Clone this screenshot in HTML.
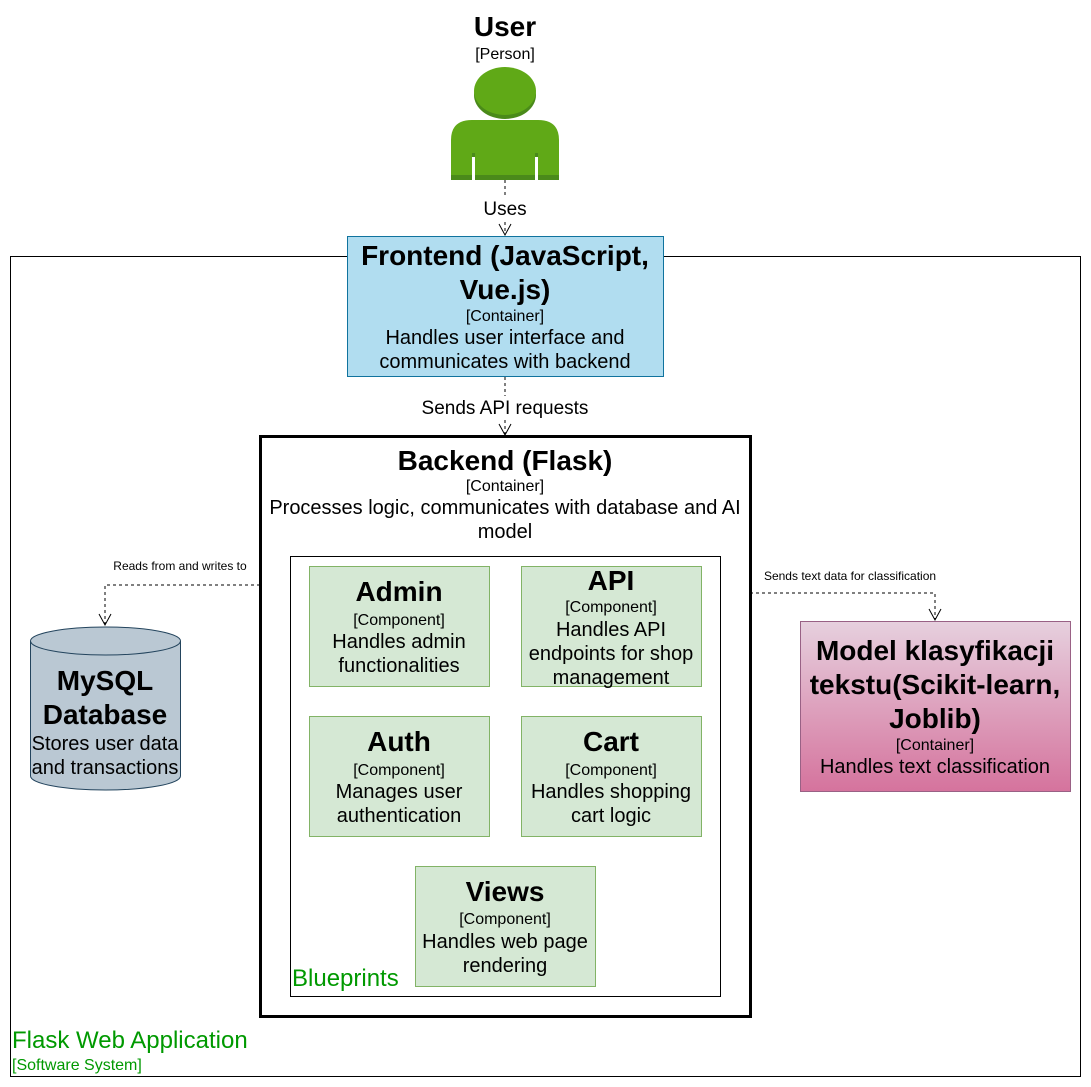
<!DOCTYPE html>
<html><head><meta charset="utf-8"><style>body{margin:0;background:#fff}svg{display:block;font-family:"Liberation Sans",Arial,sans-serif}</style></head>
<body>
<svg width="1091" height="1087" viewBox="0 0 1091 1087" xmlns="http://www.w3.org/2000/svg">
<defs>
<linearGradient id="g" x1="0" y1="0" x2="0" y2="1"><stop offset="0" stop-color="#e6d0de"/><stop offset="1" stop-color="#d5739d"/></linearGradient>
</defs>
<rect x="10.5" y="256.5" width="1070" height="820" fill="#fff" stroke="#000"/>
<text x="12" y="1048" font-size="24" fill="#009900">Flask Web Application</text>
<text x="12" y="1070" font-size="16" fill="#009900">[Software System]</text>

<!-- person -->
<text x="505" y="36" font-size="28" font-weight="bold" text-anchor="middle">User</text>
<text x="505" y="59" font-size="16" text-anchor="middle">[Person]</text>
<ellipse cx="505" cy="95" rx="31" ry="24" fill="#4a8a1a"/>
<ellipse cx="505" cy="91" rx="31" ry="24" fill="#60a917"/>
<path d="M451 180 L451 140 Q451 120 472 120 L538 120 Q559 120 559 140 L559 180 Z" fill="#60a917"/>
<rect x="451" y="175" width="108" height="5" fill="#4a8a1a"/>
<rect x="472" y="157" width="3" height="23" fill="#fff"/>
<rect x="535" y="157" width="3" height="23" fill="#fff"/>
<rect x="472" y="153" width="3" height="4" fill="#4a8a1a"/>
<rect x="535" y="153" width="3" height="4" fill="#4a8a1a"/>

<g stroke="#000" fill="none" stroke-dasharray="3 3">
<path d="M505 180 V196"/><path d="M505 222 V235"/>
<path d="M505 377 V396"/><path d="M505 420 V435"/>
<path d="M260 585 H105 V625"/>
<path d="M750 593 H935 V620"/>
</g>
<g stroke="#000" fill="none">
<path d="M499 224 L505 235 L511 224"/>
<path d="M499 424 L505 435 L511 424"/>
<path d="M99 614 L105 625 L111 614"/>
<path d="M929 609 L935 620 L941 609"/>
</g>
<rect x="478" y="198" width="54" height="22" fill="#fff"/>
<text x="505" y="215" font-size="19" text-anchor="middle">Uses</text>
<rect x="412" y="398" width="186" height="22" fill="#fff"/>
<text x="505" y="414" font-size="19" text-anchor="middle">Sends API requests</text>

<!-- frontend -->
<rect x="347.5" y="236.5" width="316" height="140" fill="#b1ddf0" stroke="#10739e"/>
<g text-anchor="middle">
<text x="505" y="265" font-size="28" font-weight="bold">Frontend (JavaScript,</text>
<text x="505" y="299" font-size="28" font-weight="bold">Vue.js)</text>
<text x="505" y="321" font-size="16">[Container]</text>
<text x="505" y="344" font-size="20">Handles user interface and</text>
<text x="505" y="368" font-size="20">communicates with backend</text>
</g>

<!-- backend -->
<rect x="260.5" y="436.5" width="490" height="580" fill="#fff" stroke="#000" stroke-width="3"/>
<g text-anchor="middle">
<text x="505" y="470" font-size="28" font-weight="bold">Backend (Flask)</text>
<text x="505" y="491" font-size="16">[Container]</text>
<text x="505" y="514" font-size="20">Processes logic, communicates with database and AI</text>
<text x="505" y="538" font-size="20">model</text>
</g>
<rect x="290.5" y="556.5" width="430" height="440" fill="#fff" stroke="#000"/>
<text x="292" y="986" font-size="24" fill="#009900">Blueprints</text>

<g fill="#d5e8d4" stroke="#82b366">
<rect x="309.5" y="566.5" width="180" height="120"/>
<rect x="521.5" y="566.5" width="180" height="120"/>
<rect x="309.5" y="716.5" width="180" height="120"/>
<rect x="521.5" y="716.5" width="180" height="120"/>
<rect x="415.5" y="866.5" width="180" height="120"/>
</g>
<g text-anchor="middle">
<text x="399" y="601" font-size="28" font-weight="bold">Admin</text>
<text x="399" y="625" font-size="16">[Component]</text>
<text x="399" y="648" font-size="20">Handles admin</text>
<text x="399" y="672" font-size="20">functionalities</text>

<text x="611" y="590" font-size="28" font-weight="bold">API</text>
<text x="611" y="612" font-size="16">[Component]</text>
<text x="611" y="636" font-size="20">Handles API</text>
<text x="611" y="660" font-size="20">endpoints for shop</text>
<text x="611" y="684" font-size="20">management</text>

<text x="399" y="751" font-size="28" font-weight="bold">Auth</text>
<text x="399" y="775" font-size="16">[Component]</text>
<text x="399" y="798" font-size="20">Manages user</text>
<text x="399" y="822" font-size="20">authentication</text>

<text x="611" y="751" font-size="28" font-weight="bold">Cart</text>
<text x="611" y="775" font-size="16">[Component]</text>
<text x="611" y="798" font-size="20">Handles shopping</text>
<text x="611" y="822" font-size="20">cart logic</text>

<text x="505" y="901" font-size="28" font-weight="bold">Views</text>
<text x="505" y="924" font-size="16">[Component]</text>
<text x="505" y="948" font-size="20">Handles web page</text>
<text x="505" y="972" font-size="20">rendering</text>
</g>

<!-- db -->
<path d="M30.5 641 V776 A75 14 0 0 0 180.5 776 V641" fill="#bac8d3" stroke="#23445d"/>
<ellipse cx="105.5" cy="641" rx="75" ry="14" fill="#bac8d3" stroke="#23445d"/>
<g text-anchor="middle">
<text x="105" y="690" font-size="28" font-weight="bold">MySQL</text>
<text x="105" y="724" font-size="28" font-weight="bold">Database</text>
<text x="105" y="750" font-size="20">Stores user data</text>
<text x="105" y="774" font-size="20">and transactions</text>
</g>
<text x="180" y="570" font-size="12" text-anchor="middle">Reads from and writes to</text>

<!-- model -->
<rect x="800.5" y="621.5" width="270" height="170" fill="url(#g)" stroke="#996185"/>
<g text-anchor="middle">
<text x="935" y="660" font-size="28" font-weight="bold">Model klasyfikacji</text>
<text x="935" y="694" font-size="28" font-weight="bold">tekstu(Scikit-learn,</text>
<text x="935" y="728" font-size="28" font-weight="bold">Joblib)</text>
<text x="935" y="750" font-size="16">[Container]</text>
<text x="935" y="773" font-size="20">Handles text classification</text>
</g>
<text x="850" y="580" font-size="12" text-anchor="middle">Sends text data for classification</text>
</svg>
</body></html>
